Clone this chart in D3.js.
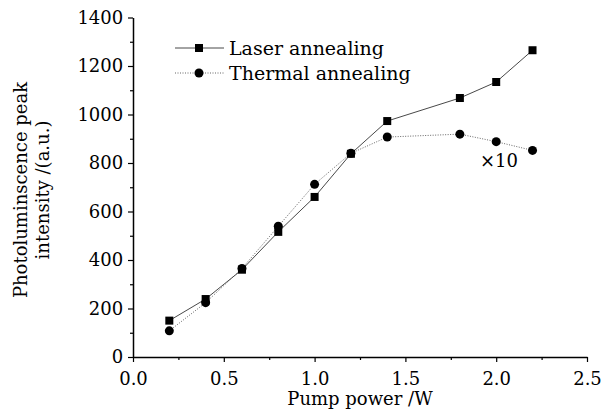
<!DOCTYPE html>
<html><head><meta charset="utf-8">
<script src="https://cdn.jsdelivr.net/npm/d3@7"></script>
<style>body{margin:0;background:#fff;} svg{display:block;font-family:"DejaVu Serif",serif;} svg text{font-family:"DejaVu Serif",serif;fill:#000;}</style>
</head><body><svg id="c" width="603" height="412"></svg>
<script>
const power = [0.2,0.4,0.6,0.8,1.0,1.2,1.4,1.8,2.0,2.2];
const laser = [150,239,360,516,660,838,973,1068,1134,1265];
const thermal = [108,224,365,539,712,840,907,919,888,852];
const xTicks = [0,0.5,1.0,1.5,2.0,2.5];
const yTicks = [0,200,400,600,800,1000,1200,1400];
const seriesNames = ["Laser annealing","Thermal annealing"];

const svg = d3.select("#c");
const x = d3.scaleLinear().domain([0,2.5]).range([133,587]);
const y = d3.scaleLinear().domain([0,1400]).range([357,17.5]);

const g = svg.append("g");
g.append("g").attr("transform","translate(0,357)")
 .call(d3.axisBottom(x).tickValues(d3.range(0.25,2.5,0.5)).tickSize(3).tickFormat(""))
 .call(a=>a.select(".domain").remove());
g.append("g").attr("transform","translate(133,0)")
 .call(d3.axisLeft(y).tickValues(d3.range(100,1400,200)).tickSize(3).tickFormat(""))
 .call(a=>a.select(".domain").remove());

const xa = g.append("g").attr("transform","translate(0,357)")
 .call(d3.axisBottom(x).tickValues(xTicks).tickSize(5).tickSizeOuter(0).tickFormat(d3.format(".1f")));
xa.attr("font-family","DejaVu Serif").attr("font-size",18);
xa.selectAll("text").attr("dy","1.1em");
const ya = g.append("g").attr("transform","translate(133,0)")
 .call(d3.axisLeft(y).tickValues(yTicks).tickSize(5).tickSizeOuter(0).tickFormat(d3.format("d")));
ya.attr("font-family","DejaVu Serif").attr("font-size",18);
ya.selectAll("text").attr("dx","-0.1em");
g.selectAll(".domain").attr("stroke","#000").attr("stroke-width",1.5);
g.selectAll(".tick line").attr("stroke","#000").attr("stroke-width",1.2);

const line = d3.line().x(d=>x(d[0])).y(d=>y(d[1]));
const lData = power.map((p,i)=>[p,laser[i]]);
const tData = power.map((p,i)=>[p,thermal[i]]);
svg.append("path").datum(lData).attr("d",line).attr("fill","none").attr("stroke","#333").attr("stroke-width",0.9);
svg.append("path").datum(tData).attr("d",line).attr("fill","none").attr("stroke","#555").attr("stroke-width",0.9).attr("stroke-dasharray","1,1.5");
svg.selectAll(".sq").data(lData).enter().append("rect").attr("x",d=>x(d[0])-4).attr("y",d=>y(d[1])-4).attr("width",8).attr("height",8).attr("fill","#000");
svg.selectAll(".ci").data(tData).enter().append("circle").attr("cx",d=>x(d[0])).attr("cy",d=>y(d[1])).attr("r",4.5).attr("fill","#000");

const lg = svg.append("g");
lg.append("line").attr("x1",175).attr("x2",224).attr("y1",48).attr("y2",48).attr("stroke","#333").attr("stroke-width",0.9);
lg.append("rect").attr("x",195).attr("y",44).attr("width",8).attr("height",8).attr("fill","#000");
lg.append("text").attr("x",229).attr("y",55).attr("font-size",19).text(seriesNames[0]);
lg.append("line").attr("x1",175).attr("x2",224).attr("y1",73).attr("y2",73).attr("stroke","#555").attr("stroke-width",0.9).attr("stroke-dasharray","1,1.5");
lg.append("circle").attr("cx",199).attr("cy",73).attr("r",4.5).attr("fill","#000");
lg.append("text").attr("x",229).attr("y",80).attr("font-size",19).text(seriesNames[1]);

svg.append("text").attr("x",480).attr("y",167).attr("font-size",18).text("×10");

svg.append("text").attr("x",x(1.25)).attr("y",405).attr("text-anchor","middle").attr("font-size",18).text("Pump power /W");
const yt = svg.append("text").attr("transform","translate(0,190) rotate(-90)").attr("text-anchor","middle").attr("font-size",18);
yt.append("tspan").attr("x",0).attr("y",27).text("Photoluminscence peak");
yt.append("tspan").attr("x",0).attr("y",49).text("intensity /(a.u.)");
</script></body></html>
